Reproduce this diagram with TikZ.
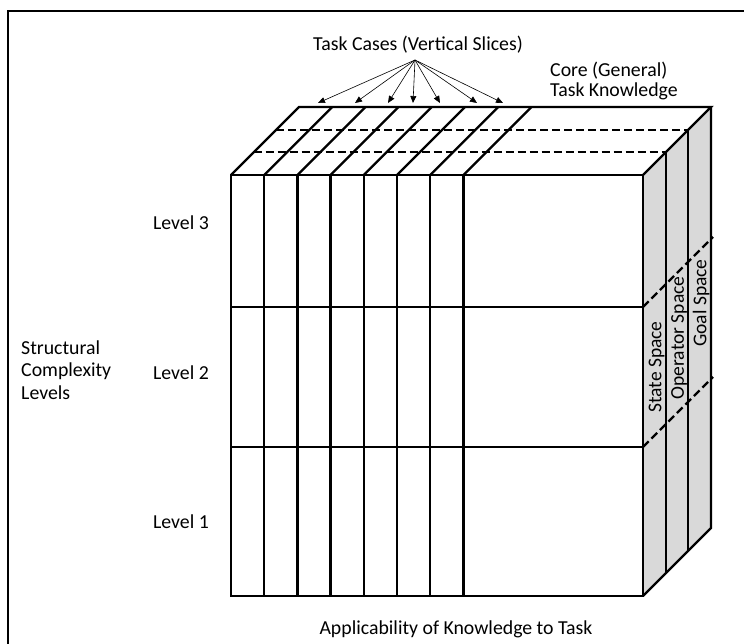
\documentclass[tikz,border=0pt]{standalone}
\usepackage{fontspec}
\setmainfont{Carlito}
\usetikzlibrary{arrows.meta}
\begin{document}
\begin{tikzpicture}[x=1pt,y=-1pt,
  edge/.style={line width=2.3pt,line join=miter},
  dashline/.style={line width=2.3pt,dash pattern=on 8pt off 4pt},
  pointer/.style={line width=0.6pt,-{Triangle[length=7pt,width=6pt]}},
  lbl/.style={font=\fontsize{19.8}{22.5}\selectfont,inner sep=0pt},
  sidelbl/.style={font=\fontsize{19.5}{22}\selectfont,inner sep=0pt,rotate=90,anchor=mid}]
\useasboundingbox (0,0) rectangle (744,644);
% frame
\draw[line width=2.6pt] (8,644) -- (8,11) -- (744,11);

% cube corners
\coordinate (ftl) at (231,175);
\coordinate (ftr) at (643,175);
\coordinate (fbl) at (231,596);
\coordinate (fbr) at (643,596);
\coordinate (btl) at (299,107);
\coordinate (btr) at (711,107);
\coordinate (bbr) at (711,528);

% side face (knowledge spaces)
\fill[gray!30] (ftr) -- (btr) -- (bbr) -- (fbr) -- cycle;
% top face
\fill[white] (ftl) -- (btl) -- (btr) -- (ftr) -- cycle;

% layer dividers on the top and side faces
\draw[dashline] (253.7,152.3) -- (665.7,152.3);
\draw[dashline] (276.3,129.7) -- (688.3,129.7);
\draw[edge] (665.7,152.3) -- (665.7,573.3);
\draw[edge] (688.3,129.7) -- (688.3,550.7);
\draw[dashline] (643,307) -- (713,237);
\draw[dashline] (643,447) -- (713,377);

% vertical slices: front lines and their continuation over the top
\foreach \i in {1,...,7}{
  \pgfmathsetmacro{\xs}{231+33.2*\i}
  \draw[edge] (\xs,175) -- (\xs,596);
  \draw[edge] (\xs,175) -- ({\xs+68},107);
}
% level boundaries
\draw[edge] (231,307) -- (643,307);
\draw[edge] (231,447) -- (643,447);

% cube outline
\draw[edge] (ftl) rectangle (fbr);
\draw[edge] (ftl) -- (btl) -- (btr) -- (ftr);
\draw[edge] (btr) -- (bbr) -- (fbr);

% labels
\node[lbl] (cases) at (418,45) {Task Cases (Vertical Slices)};
\coordinate (hub) at (415,60);
\foreach \t in {318,355,388,413,440,477,503}
  \draw[pointer] (hub) -- (\t,103);
\node[lbl,align=left,anchor=west] (core) at (550,81) {Core (General)\\[-2.5pt]Task Knowledge};

\node[lbl] (l3) at (181,223) {Level 3};
\node[lbl] (l2) at (181,373) {Level 2};
\node[lbl] (l1) at (181,522) {Level 1};
\node[lbl,align=left,anchor=west] (scl) at (21,370) {Structural\\Complexity\\Levels};
\node[lbl] (app) at (456,629) {Applicability of Knowledge to Task};

\node[sidelbl] (state) at (659,367) {State Space};
\node[sidelbl] (oper) at (681.5,338) {Operator Space};
\node[sidelbl] (goal) at (704,303) {Goal Space};
\end{tikzpicture}
\end{document}
